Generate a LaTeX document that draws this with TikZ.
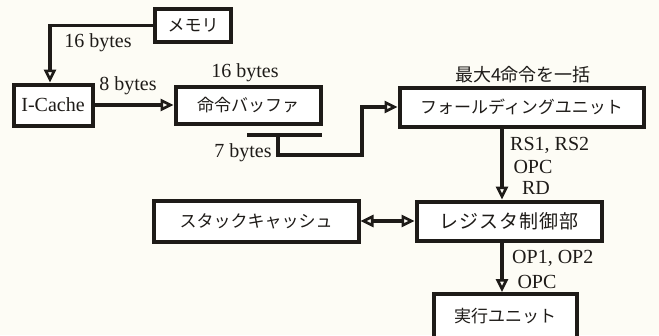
\documentclass[tikz,border=0pt]{standalone}
\usepackage{fontspec}
\setmainfont{Liberation Serif}
\newfontfamily\jp{Noto Sans CJK JP}
\usetikzlibrary{arrows.meta}
\definecolor{paper}{HTML}{FDFCF5}
\definecolor{ink}{HTML}{1E1B18}
\tikzset{
  box/.style={draw=ink, line width=4pt, fill=white, inner sep=0pt, font=\jp\fontsize{17}{17}\selectfont, text=ink},
  conn/.style={draw=ink, line width=3.4pt, line join=miter},
  tipx/.tip={Triangle[open, length=13pt, width=12pt, line width=2.6pt]},
  arr/.style={conn, -tipx},
  darr/.style={conn, tipx-tipx},
  lbl/.style={inner sep=0pt, text=ink, font=\fontsize{20}{20}\selectfont},
  jlbl/.style={inner sep=0pt, text=ink, font=\jp\fontsize{18}{18}\selectfont}
}
\begin{document}
\begin{tikzpicture}[x=1pt, y=-1pt]
\fill[paper] (0,0) rectangle (659,335);
\useasboundingbox (0,0) rectangle (659,335);

\node[box, minimum width=76pt, minimum height=33pt] (mem) at (193,25.5) {メモリ};
\node[box, minimum width=79pt, minimum height=41pt, font=\fontsize{20}{20}\selectfont] (icache) at (53,105) {I-Cache};
\node[box, minimum width=145pt, minimum height=37pt] (buf) at (248,105) {命令バッファ};
\node[box, minimum width=244pt, minimum height=39pt] (fold) at (521.5,107) {フォールディングユニット};
\node[box, minimum width=185pt, minimum height=39pt, font=\jp\fontsize{19}{19}\selectfont\addfontfeature{LetterSpace=6}] (reg) at (509,221) {レジスタ制御部};
\node[box, minimum width=205pt, minimum height=41pt] (stack) at (256,221) {スタックキャッシュ};
\node[box, minimum width=143pt, minimum height=44pt] (exec) at (505,316) {実行ユニット};

% memory -> I-Cache
\draw[arr] (mem.west) -| ([xshift=-3pt]icache.north);
% I-Cache -> buffer
\draw[arr] (icache.east) -- (buf.west);
% buffer tap (7 bytes) -> folding unit
\coordinate (barL) at (247,135);
\coordinate (barR) at (322,135);
\coordinate (tap) at (278,135);
\coordinate (bend) at (362,155);
\draw[conn, line width=4pt] (barL) -- (barR);
\draw[arr] (tap) |- (bend) |- (fold.west);
% folding -> register control
\coordinate (vx) at (502,0);
\draw[arr] (fold.south -| vx) -- (reg.north -| vx);
% register control -> execution unit
\draw[arr] (reg.south -| vx) -- (exec.north -| vx);
% stack cache <-> register control
\draw[darr] (stack.east) -- (reg.west);

% labels
\node[lbl] (l16a) at (98,43) {16 bytes};
\node[lbl] (l8) at (128,86) {8 bytes};
\node[lbl] (l16b) at (245,73) {16 bytes};
\node[lbl] (l7) at (243,153) {7 bytes};
\node[jlbl] (lmax) at (523,75) {最大4命令を一括};
\node[lbl, anchor=west] (lrs) at (510,145) {RS1, RS2};
\node[lbl] (lopc1) at (533,167) {OPC};
\node[lbl] (lrd) at (536,188) {RD};
\node[lbl, anchor=west] (lop) at (512,258) {OP1, OP2};
\node[lbl] (lopc2) at (537,282) {OPC};
\end{tikzpicture}
\end{document}
